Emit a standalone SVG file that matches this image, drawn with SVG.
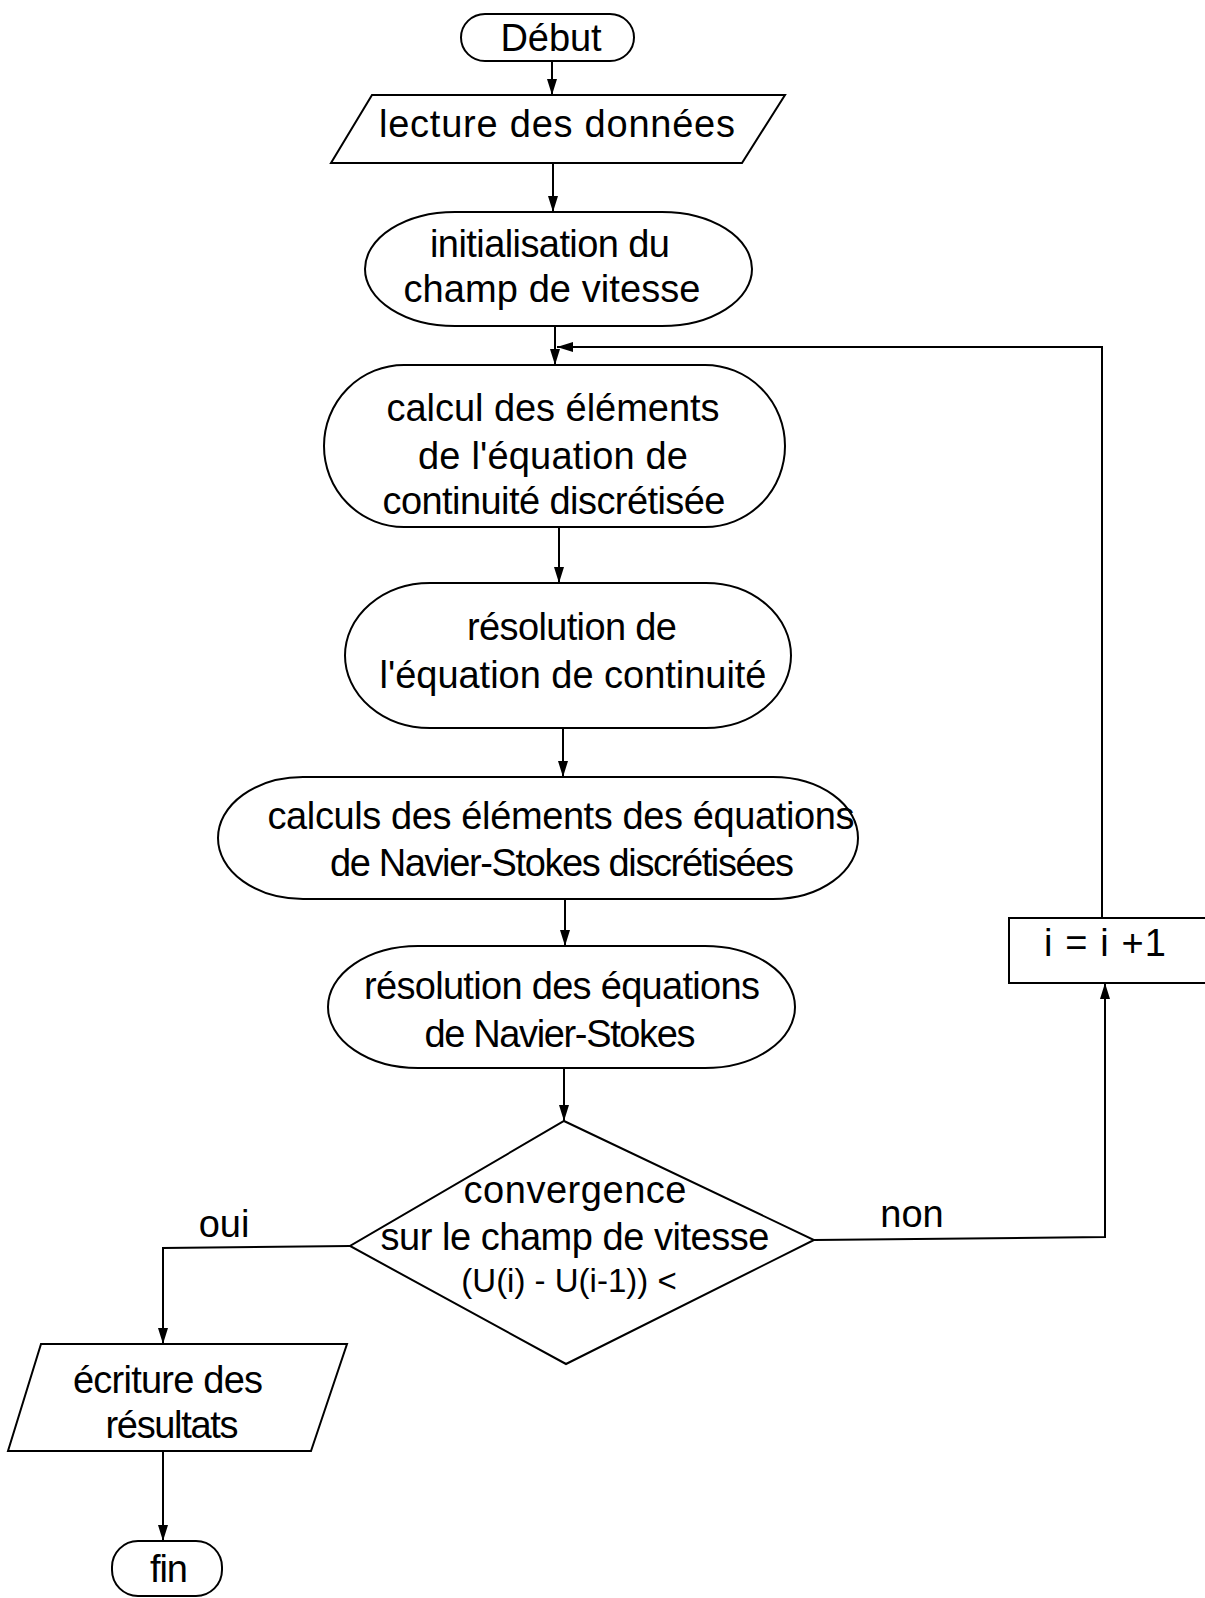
<svg xmlns="http://www.w3.org/2000/svg" width="1205" height="1598" viewBox="0 0 1205 1598">
<style>
.s{fill:#fff;stroke:#000;stroke-width:2}
.c{fill:none;stroke:#000;stroke-width:2}
text{font-family:"Liberation Sans",Arial,sans-serif;font-size:38px;fill:#000;text-anchor:middle}
</style>
<defs>
<marker id="ah" viewBox="0 0 16 10" refX="16" refY="5" markerWidth="16" markerHeight="10" markerUnits="userSpaceOnUse" orient="auto">
<path d="M0,0 L16,5 L0,10 z" fill="#000"/>
</marker>
</defs>
<rect width="1205" height="1598" fill="#fff"/>
<g id="connectors">
<path class="c" d="M552,61 V95" marker-end="url(#ah)"/>
<path class="c" d="M553,163 V212" marker-end="url(#ah)"/>
<path class="c" d="M555,326 V365" marker-end="url(#ah)"/>
<path class="c" d="M1102,918 V347 H557" marker-end="url(#ah)"/>
<path class="c" d="M559,527 V583" marker-end="url(#ah)"/>
<path class="c" d="M563,728 V777" marker-end="url(#ah)"/>
<path class="c" d="M565,899 V946" marker-end="url(#ah)"/>
<path class="c" d="M564,1068 V1121" marker-end="url(#ah)"/>
<path class="c" d="M814,1240 L1105,1237 V983" marker-end="url(#ah)"/>
<path class="c" d="M350,1246 L163,1248 V1344" marker-end="url(#ah)"/>
<path class="c" d="M163,1451 V1541" marker-end="url(#ah)"/>
<text x="912" y="1227">non</text>
<text x="224" y="1237">oui</text>
</g>
<g id="debut">
<rect class="s" x="461" y="14" width="173" height="47" rx="24" ry="23.5"/>
<text x="551" y="51" textLength="101">Début</text>
</g>
<g id="lecture">
<polygon class="s" points="372,95 785,95 742,163 331,163"/>
<text x="557" y="137" textLength="356">lecture des données</text>
</g>
<g id="init">
<rect class="s" x="365" y="212" width="387" height="114" rx="90" ry="57"/>
<text x="550" y="257" textLength="240">initialisation du</text>
<text x="552" y="302" textLength="297">champ de vitesse</text>
</g>
<g id="calcul">
<rect class="s" x="324" y="365" width="461" height="162" rx="80" ry="81"/>
<text x="553" y="421" textLength="333">calcul des éléments</text>
<text x="553" y="469" textLength="270">de l'équation de</text>
<text x="554" y="514" textLength="343">continuité discrétisée</text>
</g>
<g id="resolution">
<rect class="s" x="345" y="583" width="446" height="145" rx="85" ry="72.5"/>
<text x="572" y="640" textLength="210">résolution de</text>
<text x="573" y="688" textLength="387">l'équation de continuité</text>
</g>
<g id="calculsNS">
<rect class="s" x="218" y="777" width="640" height="122" rx="85" ry="61"/>
<text x="561" y="829" textLength="587">calculs des éléments des équations</text>
<text x="562" y="876" textLength="464">de Navier-Stokes discrétisées</text>
</g>
<g id="resolutionNS">
<rect class="s" x="328" y="946" width="467" height="122" rx="90" ry="61"/>
<text x="562" y="999" textLength="396">résolution des équations</text>
<text x="560" y="1047" textLength="271">de Navier-Stokes</text>
</g>
<g id="convergence">
<polygon class="s" points="564,1121 814,1240 566,1364 350,1246"/>
<text x="575" y="1203" textLength="223">convergence</text>
<text x="575" y="1250" textLength="389">sur le champ de vitesse</text>
<text x="569" y="1292" style="font-size:33px">(U(i) - U(i-1)) &lt;</text>
</g>
<g id="increment">
<rect class="s" x="1009" y="918" width="205" height="65"/>
<text x="1105" y="956" textLength="122">i = i +1</text>
</g>
<g id="ecriture">
<polygon class="s" points="41,1344 347,1344 311,1451 8,1451"/>
<text x="168" y="1393" textLength="190">écriture des</text>
<text x="172" y="1438" textLength="133">résultats</text>
</g>
<g id="fin">
<rect class="s" x="112" y="1541" width="110" height="55" rx="26" ry="26"/>
<text x="169" y="1582" textLength="38">fin</text>
</g>
</svg>
